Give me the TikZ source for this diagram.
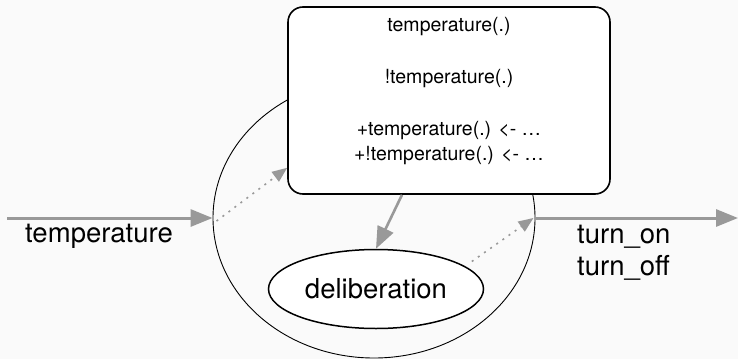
\documentclass[tikz,border=0pt]{standalone}
\usepackage{fontspec}
\setmainfont{TeX Gyre Heros}
\usetikzlibrary{arrows.meta,shapes.geometric}
\definecolor{bgc}{RGB}{250,250,250}
\definecolor{arrc}{RGB}{153,153,153}
\begin{document}
\begin{tikzpicture}[x=1pt,y=-1pt,
  bigtext/.style={font=\fontsize{27.5}{32}\selectfont, inner sep=0pt},
  smalltext/.style={font=\fontsize{19.5}{25}\selectfont, inner sep=0pt, anchor=base},
  agentshape/.style={ellipse, draw=black, line width=0.9pt, minimum width=322pt, minimum height=280pt, inner sep=0pt},
  beliefbox/.style={rectangle, rounded corners=15pt, draw=black, line width=1.6pt, fill=white, minimum width=322pt, minimum height=187pt, inner sep=0pt},
  delibshape/.style={ellipse, draw=black, line width=1.5pt, fill=white, minimum width=215pt, minimum height=79pt, inner sep=0pt},
  flow/.style={draw=arrc, line width=3pt, -{Triangle[length=22pt,width=17pt]}},
  dotflow/.style={draw=arrc, line width=1.6pt, dash pattern=on 2pt off 5.5pt, -{Triangle[length=15pt,width=12pt]}}]
\fill[bgc] (0,0) rectangle (738,359);
\useasboundingbox (0,0) rectangle (738,359);

\node[agentshape] (agent) at (374,218) {};
\node[beliefbox] (box) at (449,100.5) {};
\node[smalltext] (b1) at (449,31) {temperature(.)};
\node[smalltext] (b2) at (449,83) {!temperature(.)};
\node[smalltext] (b3) at (449,135) {+temperature(.) <- …};
\node[smalltext] (b4) at (449,160) {+!temperature(.) <- …};
\node[delibshape, bigtext] (delib) at (376,289) {deliberation};

\coordinate (inL) at (7,218);
\coordinate (outR) at (738,218);
\draw[flow] (inL) -- (agent.west);
\draw[flow, shorten >=0pt] (agent.east) -- (outR);
\node[bigtext, anchor=base west] (tin) at (25,242) {temperature};
\node[bigtext, anchor=base west] (ton) at (577,243) {turn\_on};
\node[bigtext, anchor=base west] (toff) at (577,275) {turn\_off};

\draw[dotflow] ([xshift=4pt,yshift=-3pt]agent.west) -- ([yshift=27pt]box.south west);
\draw[dotflow] ([xshift=8pt,yshift=4pt]delib.15) -- ([xshift=-2pt]agent.east);
\draw[flow, line width=2.6pt] ([xshift=-47pt]box.south) -- (delib.north);
\end{tikzpicture}
\end{document}
